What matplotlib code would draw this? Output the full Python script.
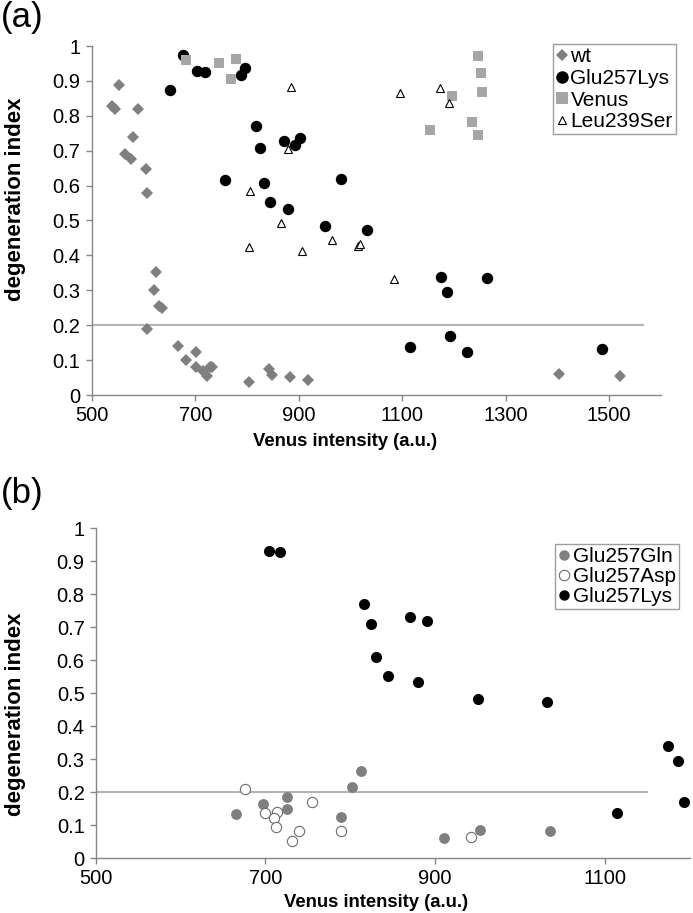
import matplotlib
matplotlib.use("Agg")
import matplotlib.pyplot as plt
from matplotlib.lines import Line2D

plt.rcParams['font.family'] = ['Liberation Sans', 'DejaVu Sans']

# ---------------- Panel (a) data ----------------
wt_x = [553, 539, 545, 589, 580, 564, 575, 605, 606, 625, 620, 631, 635, 607, 666,
        702, 683, 702, 715, 722, 728, 733, 803, 843, 848, 884, 917, 1403, 1520]
wt_y = [0.888, 0.828, 0.819, 0.820, 0.740, 0.690, 0.676, 0.648, 0.578, 0.352, 0.300,
        0.256, 0.249, 0.188, 0.140, 0.123, 0.100, 0.080, 0.070, 0.055, 0.080, 0.080,
        0.037, 0.074, 0.057, 0.052, 0.044, 0.060, 0.054]

lys_a_x = [677, 704, 718, 652, 796, 788, 818, 825, 872, 893, 902, 757, 832, 845, 880,
           951, 982, 1032, 1175, 1264, 1187, 1193, 1115, 1226, 1486]
lys_a_y = [0.974, 0.929, 0.925, 0.874, 0.937, 0.916, 0.770, 0.708, 0.728, 0.717, 0.736,
           0.615, 0.607, 0.552, 0.533, 0.483, 0.618, 0.473, 0.339, 0.334, 0.295, 0.168,
           0.137, 0.122, 0.133]

venus_x = [682, 746, 779, 769, 1246, 1253, 1254, 1196, 1234, 1154, 1246]
venus_y = [0.961, 0.952, 0.964, 0.905, 0.972, 0.924, 0.869, 0.858, 0.783, 0.759, 0.746]

leu_x = [886, 879, 805, 866, 803, 907, 1095, 1173, 1190, 965, 1015, 1018, 1084]
leu_y = [0.882, 0.704, 0.585, 0.494, 0.425, 0.413, 0.864, 0.881, 0.836, 0.444, 0.428,
         0.433, 0.331]

# ---------------- Panel (b) data ----------------
gln_x = [665, 697, 726, 726, 789, 802, 813, 910, 953, 1036]
gln_y = [0.135, 0.165, 0.187, 0.150, 0.124, 0.215, 0.265, 0.062, 0.086, 0.083]

asp_x = [676, 700, 714, 710, 712, 740, 731, 755, 789, 942]
asp_y = [0.210, 0.138, 0.139, 0.122, 0.094, 0.084, 0.053, 0.171, 0.082, 0.064]

lys_b_x = [704, 717, 816, 824, 870, 890, 830, 844, 880, 951, 1032, 1175, 1186, 1193, 1114]
lys_b_y = [0.932, 0.927, 0.772, 0.709, 0.730, 0.720, 0.610, 0.553, 0.535, 0.484, 0.475,
           0.339, 0.296, 0.170, 0.138]

threshold = 0.2
xticks_a = [500, 700, 900, 1100, 1300, 1500]
xticks_b = [500, 700, 900, 1100]
yticks = [0, 0.1, 0.2, 0.3, 0.4, 0.5, 0.6, 0.7, 0.8, 0.9, 1]
ytick_labels = ['0', '0.1', '0.2', '0.3', '0.4', '0.5', '0.6', '0.7', '0.8', '0.9', '1']

AX_GRAY = '#868686'
LINE_GRAY = '#b4b4b4'
DARK_GRAY = '#7f7f7f'
LIGHT_GRAY = '#a6a6a6'
TICK_FS = 14.5
XLABEL_FS = 13.3
YLABEL_FS = 16
LEG_FS = 15

W, H = 693, 913
fig = plt.figure(figsize=(W / 100, H / 100), dpi=100)

A_L, A_R, A_B, A_T = 91.7, 661.0, 395.0, 46.0
B_L, B_R, B_B, B_T = 95.8, 689.5, 858.3, 528.3
ax_a = fig.add_axes([A_L / W, (H - A_B) / H, (A_R - A_L) / W, (A_B - A_T) / H])
ax_b = fig.add_axes([B_L / W, (H - B_B) / H, (B_R - B_L) / W, (B_B - B_T) / H])


def style(ax, xlim, xticks, xlab_x, ylab_x, ylab_y):
    ax.set_xlim(*xlim)
    ax.set_ylim(0, 1)
    ax.set_xticks(xticks)
    ax.set_xticklabels([str(t) for t in xticks])
    ax.set_yticks(yticks)
    ax.set_yticklabels(ytick_labels)
    for s in ['top', 'right']:
        ax.spines[s].set_visible(False)
    for s in ['left', 'bottom']:
        ax.spines[s].set_color(AX_GRAY)
        ax.spines[s].set_linewidth(1.0)
    ax.tick_params(axis='both', direction='out', length=4, width=1.0,
                   color=AX_GRAY, labelsize=TICK_FS, labelcolor='black', pad=4)
    ax.set_xlabel('Venus intensity (a.u.)', fontsize=XLABEL_FS, fontweight='bold')
    ax.xaxis.set_label_coords(xlab_x, -0.108)
    ax.set_ylabel('degeneration index', fontsize=YLABEL_FS, fontweight='bold')
    ax.yaxis.set_label_coords(ylab_x, ylab_y)


# Panel (a)
style(ax_a, (500, 1600), xticks_a, (345 - A_L) / (A_R - A_L),
      (26 - A_L) / (A_R - A_L), 0.56)
ax_a.plot([500, 1565], [threshold, threshold], color=LINE_GRAY, lw=1.5, zorder=1)
ax_a.plot(wt_x, wt_y, ls='none', marker='D', ms=6.0, mfc=DARK_GRAY, mec=DARK_GRAY,
          mew=0, label='wt', zorder=3, clip_on=False)
ax_a.plot(lys_a_x, lys_a_y, ls='none', marker='o', ms=8.2, mfc='black', mec='black',
          mew=0, label='Glu257Lys', zorder=3, clip_on=False)
ax_a.plot(venus_x, venus_y, ls='none', marker='s', ms=7.0, mfc=LIGHT_GRAY, mec=LIGHT_GRAY,
          mew=0, label='Venus', zorder=3, clip_on=False)
ax_a.plot(leu_x, leu_y, ls='none', marker='^', ms=6.2, mfc='white', mec='black',
          mew=0.8, label='Leu239Ser', zorder=3, clip_on=False)

handles_a = [
    Line2D([], [], ls='none', marker='D', ms=6, mfc=DARK_GRAY, mec=DARK_GRAY, mew=0),
    Line2D([], [], ls='none', marker='o', ms=9, mfc='black', mec='black', mew=0),
    Line2D([], [], ls='none', marker='s', ms=8, mfc=LIGHT_GRAY, mec=LIGHT_GRAY, mew=0),
    Line2D([], [], ls='none', marker='^', ms=6, mfc='white', mec='black', mew=0.8),
]
leg_a = ax_a.legend(handles_a, ['wt', 'Glu257Lys', 'Venus', 'Leu239Ser'],
                    loc='upper left',
                    bbox_to_anchor=((552.7 - A_L) / (A_R - A_L), (A_B - 44) / (A_B - A_T)),
                    fontsize=LEG_FS, frameon=True, fancybox=False, borderpad=0.15,
                    handlelength=0.55, handletextpad=0.15, labelspacing=0.13,
                    borderaxespad=0)
leg_a.get_frame().set_edgecolor(AX_GRAY)
leg_a.get_frame().set_linewidth(1.0)

# Panel (b)
style(ax_b, (500, 1200), xticks_b, (376 - B_L) / (B_R - B_L),
      (26 - B_L) / (B_R - B_L), 0.435)
ax_b.plot([500, 1150], [threshold, threshold], color=LINE_GRAY, lw=1.5, zorder=1)
ax_b.plot(gln_x, gln_y, ls='none', marker='o', ms=7.8, mfc=DARK_GRAY, mec=DARK_GRAY,
          mew=0, label='Glu257Gln', zorder=3, clip_on=False)
ax_b.plot(asp_x, asp_y, ls='none', marker='o', ms=7.4, mfc='white', mec='#6e6e6e',
          mew=0.8, label='Glu257Asp', zorder=3, clip_on=False)
ax_b.plot(lys_b_x, lys_b_y, ls='none', marker='o', ms=8.0, mfc='black', mec='black',
          mew=0, label='Glu257Lys', zorder=3, clip_on=False)

handles_b = [
    Line2D([], [], ls='none', marker='o', ms=7.5, mfc=DARK_GRAY, mec=DARK_GRAY, mew=0),
    Line2D([], [], ls='none', marker='o', ms=7.5, mfc='white', mec='#6e6e6e', mew=0.8),
    Line2D([], [], ls='none', marker='o', ms=7.5, mfc='black', mec='black', mew=0),
]
leg_b = ax_b.legend(handles_b, ['Glu257Gln', 'Glu257Asp', 'Glu257Lys'],
                    loc='upper left',
                    bbox_to_anchor=((555.3 - B_L) / (B_R - B_L), (B_B - 544) / (B_B - B_T)),
                    fontsize=LEG_FS, frameon=True, fancybox=False, borderpad=0.15,
                    handlelength=0.55, handletextpad=0.15, labelspacing=0.05,
                    borderaxespad=0)
leg_b.get_frame().set_edgecolor(AX_GRAY)
leg_b.get_frame().set_linewidth(1.0)

# Panel labels
fig.text(1 / W, 1 - 1 / H, '(a)', fontsize=25, ha='left', va='top')
fig.text(1 / W, 1 - 477 / H, '(b)', fontsize=25, ha='left', va='top')

fig.savefig('out.png', dpi=100)
